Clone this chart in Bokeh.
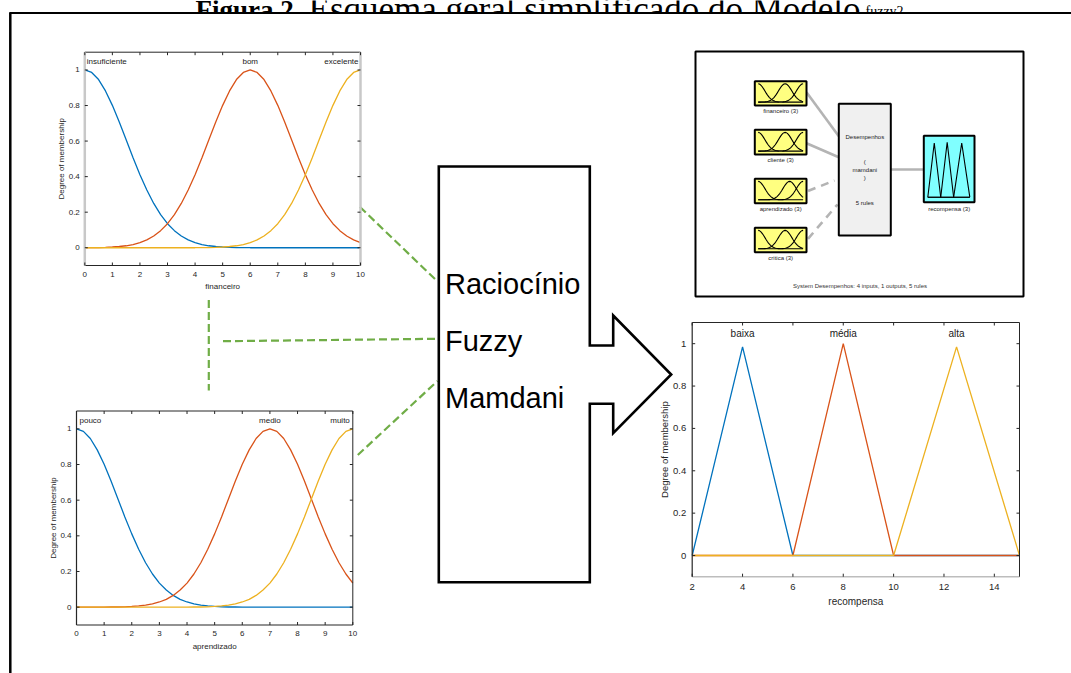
import math
from bokeh.plotting import figure
from bokeh.models import Range1d
from bokeh.core.properties import value
from bokeh.embed import file_html
from bokeh.resources import INLINE

# ---------------- data ----------------
mf_x = [0, 0.25, 0.5, 0.75, 1, 1.25, 1.5, 1.75, 2, 2.25, 2.5, 2.75, 3, 3.25, 3.5, 3.75,
        4, 4.25, 4.5, 4.75, 5, 5.25, 5.5, 5.75, 6, 6.25, 6.5, 6.75, 7, 7.25, 7.5, 7.75,
        8, 8.25, 8.5, 8.75, 9, 9.25, 9.5, 9.75, 10]

financeiro_names = ["insuficiente", "bom", "excelente"]
insuficiente = [1, .986, .946, .882, .801, .707, .607, .506, .411, .325, .249, .186, .135, .096,
                .066, .044, .029, .018, .011, .007, .004, .002, .001, .001,
                0, 0, 0, 0, 0, 0, 0, 0, 0, 0, 0, 0, 0, 0, 0, 0, 0]
bom = [0, .001, .001, .002, .004, .007, .011, .018, .029, .044, .066, .096, .135, .186, .249,
       .325, .411, .506, .607, .707, .801, .882, .946, .986, 1,
       .986, .946, .882, .801, .707, .607, .506, .411, .325, .249, .186, .135, .096, .066, .044, .029]
excelente = [0, 0, 0, 0, 0, 0, 0, 0, 0, 0, 0, 0, 0, 0, 0, 0,
             0, .001, .001, .002, .004, .007, .011, .018, .029, .044, .066, .096, .135, .186, .249,
             .325, .411, .506, .607, .707, .801, .882, .946, .986, 1]

aprendizado_names = ["pouco", "medio", "muito"]
pouco = [1, .986, .946, .882, .801, .707, .607, .506, .411, .325, .249, .186, .135, .096,
         .066, .044, .029, .018, .011, .007, .004, .002, .001, .001,
         0, 0, 0, 0, 0, 0, 0, 0, 0, 0, 0, 0, 0, 0, 0, 0, 0]
medio = [0, 0, 0, 0,
         0, .001, .001, .002, .004, .007, .011, .018, .029, .044, .066, .096, .135, .186, .249,
         .325, .411, .506, .607, .707, .801, .882, .946, .986, 1,
         .986, .946, .882, .801, .707, .607, .506, .411, .325, .249, .186, .135]
muito = [0, 0, 0, 0, 0, 0, 0, 0, 0, 0, 0, 0, 0, 0, 0, 0,
         0, .001, .001, .002, .004, .007, .011, .018, .029, .044, .066, .096, .135, .186, .249,
         .325, .411, .506, .607, .707, .801, .882, .946, .986, 1]

recompensa_names = ["baixa", "média", "alta"]
baixa_x = [2, 4, 6, 15]
baixa = [0, 0.985, 0, 0]
media_x = [2, 6, 8, 10, 15]
media = [0, 0, 1, 0, 0]
alta_x = [2, 10, 12.5, 15]
alta = [0, 0, 0.985, 0]

in_ticks = [0, 1, 2, 3, 4, 5, 6, 7, 8, 9, 10]
in_tick_labels = ["0", "1", "2", "3", "4", "5", "6", "7", "8", "9", "10"]
rec_ticks = [2, 4, 6, 8, 10, 12, 14]
rec_tick_labels = ["2", "4", "6", "8", "10", "12", "14"]
deg_ticks = [0, 0.2, 0.4, 0.6, 0.8, 1]
deg_tick_labels = ["0", "0.2", "0.4", "0.6", "0.8", "1"]

fis_inputs = ["financeiro (3)", "cliente (3)", "aprendizado (3)", "critica (3)"]
fis_output = "recompensa (3)"
fis_name = "Desempenhos"
fis_caption = "System Desempenhos: 4 inputs, 1 outputs, 5 rules"
center_words = ["Raciocínio", "Fuzzy", "Mamdani"]

# ---------------- styling ----------------
SANS = value("Liberation Sans")
SERIF = value("Liberation Serif")
AX = "#262626"
C_BLUE, C_ORANGE, C_YELLOW = "#0072BD", "#D95319", "#EDB120"
GREEN = "#70AD47"
GRAYLINK = "#b4b4b4"

W, H = 1071, 673
p = figure(width=W, height=H, x_range=Range1d(0, W), y_range=Range1d(H, 0),
           output_backend="svg", toolbar_location=None, x_axis_type=None, y_axis_type=None,
           min_border=0, min_border_left=0, min_border_right=0, min_border_top=0, min_border_bottom=0)
p.grid.visible = False
p.outline_line_color = None
p.background_fill_color = "white"
p.border_fill_color = "white"

# ---------------- title (cut off at the top, as in the source) ----------------
p.text(x=[300], y=[9.3], text=["Figura 2."], text_font=SERIF, text_font_style="bold",
       text_font_size="27px", text_baseline="alphabetic", text_align="right", text_color="black")
p.text(x=[308], y=[9.3], text=["Esquema geral simplificado do Modelo"], text_font=SERIF,
       text_font_size="35px", text_baseline="alphabetic", text_align="left", text_color="black")
p.text(x=[865], y=[10.5], text=["fuzzy2"], text_font=SERIF,
       text_font_size="14px", text_baseline="alphabetic", text_align="left", text_color="black")
p.quad(left=[0], right=[W], top=[13.2], bottom=[40], fill_color="white", line_color=None)

# outer frame
p.line([9.8, 9.8], [12, H], line_color="black", line_width=2.5)
p.line([9, W], [12.6, 12.6], line_color="black", line_width=2)

# ---------------- green dashed connectors ----------------
for (x0, y0, x1, y1) in [(359.5, 206.5, 437, 281), (222.5, 340.7, 437, 338.3),
                         (357.3, 454.5, 437, 380.5), (208.3, 299.5, 208.3, 390)]:
    p.line([x0, x1], [y0, y1], line_color=GREEN, line_width=2.2, line_dash="8 4")


# ---------------- membership-function panels ----------------
def panel(box, xr, xticks, xtlabels, xlabel, series, names, fs, lfs, offs, edges, label_align):
    l, r, t, b = box
    yr = (-0.1, 1.1)
    sub = p.subplot(x_source=Range1d(*xr), y_source=Range1d(*yr),
                    x_target=Range1d(l, r), y_target=Range1d(b, t))
    x0, x1 = xr
    y0, y1 = yr
    for (xs, ys, col) in series:
        sub.line(xs, ys, line_color=col, line_width=1.3)
    sub.line([x0, x1], [y1, y1], line_color=edges["top"][0], line_width=edges["top"][1])
    sub.line([x0, x1], [y0, y0], line_color=edges["bottom"][0], line_width=edges["bottom"][1])
    sub.line([x0, x0], [y0, y1], line_color=edges["left"][0], line_width=edges["left"][1])
    sub.line([x1, x1], [y0, y1], line_color=edges["right"][0], line_width=edges["right"][1])
    n = len(xticks)
    m = len(deg_ticks)
    sub.ray(x=xticks, y=[y0] * n, length=3, length_units="screen", angle=math.pi / 2, line_color=AX, line_width=1)
    sub.ray(x=xticks, y=[y1] * n, length=3, length_units="screen", angle=-math.pi / 2, line_color=AX, line_width=1)
    sub.ray(x=[x0] * m, y=deg_ticks, length=3, length_units="screen", angle=0, line_color=AX, line_width=1)
    sub.ray(x=[x1] * m, y=deg_ticks, length=3, length_units="screen", angle=math.pi, line_color=AX, line_width=1)
    sub.text(x=xticks, y=[y0] * n, text=xtlabels, y_offset=offs["xt"], text_align="center",
             text_baseline="middle", text_font=SANS, text_font_size=fs, text_color=AX)
    sub.text(x=[x0] * m, y=deg_ticks, text=deg_tick_labels, x_offset=offs["yt"], text_align="right",
             text_baseline="middle", text_font=SANS, text_font_size=fs, text_color=AX)
    sub.text(x=[(x0 + x1) / 2], y=[y0], text=[xlabel], y_offset=offs["xl"], text_align="center",
             text_baseline="middle", text_font=SANS, text_font_size=lfs, text_color=AX)
    sub.text(x=[x0], y=[(y0 + y1) / 2], text=["Degree of membership"], x_offset=offs["yl"],
             angle=math.pi / 2, text_align="center", text_baseline="middle",
             text_font=SANS, text_font_size=fs, text_color=AX)
    for (xs, ys, col), name, (al, dx) in zip(series, names, label_align):
        k = ys.index(max(ys))
        sub.text(x=[xs[k]], y=[1.047], text=[name], x_offset=dx, text_align=al,
                 text_baseline="middle", text_font=SANS, text_font_size=lfs, text_color="#1a1a1a")
    return sub


GRAYEDGE = "#c8c8c8"
panel((84.3, 360, 51.7, 265), (0, 10), in_ticks, in_tick_labels, "financeiro",
      [(mf_x, insuficiente, C_BLUE), (mf_x, bom, C_ORANGE), (mf_x, excelente, C_YELLOW)],
      financeiro_names, "8px", "8px", {"xt": 8.5, "yt": -5, "xl": 21, "yl": -23},
      {"top": (AX, 1), "bottom": (AX, 1.2), "left": (GRAYEDGE, 2.5), "right": (GRAYEDGE, 2.5)},
      [("left", 2), ("center", 0), ("right", -2)])

panel((76, 352.3, 410.5, 624.5), (0, 10), in_ticks, in_tick_labels, "aprendizado",
      [(mf_x, pouco, C_BLUE), (mf_x, medio, C_ORANGE), (mf_x, muito, C_YELLOW)],
      aprendizado_names, "8px", "8px", {"xt": 8, "yt": -5, "xl": 21, "yl": -23},
      {"top": (AX, 1), "bottom": (AX, 1.2), "left": (AX, 1.2), "right": (AX, 1)},
      [("left", 3), ("center", 0), ("right", -3)])

panel((691.7, 1019, 322, 576.2), (2, 15), rec_ticks, rec_tick_labels, "recompensa",
      [(baixa_x, baixa, C_BLUE), (media_x, media, C_ORANGE), (alta_x, alta, C_YELLOW)],
      recompensa_names, "9.5px", "10px", {"xt": 10.5, "yt": -6, "xl": 24.5, "yl": -28},
      {"top": (AX, 1), "bottom": ("#bdbdbd", 1.5), "left": (AX, 1.2), "right": (AX, 1)},
      [("center", 0), ("center", 0), ("center", 0)])

# ---------------- central box with arrow ----------------
bx = [438.3, 589.3, 589.3, 612.7, 612.7, 670.7, 612.7, 612.7, 589.3, 589.3, 438.3]
by = [166, 166, 345, 345, 315, 374, 432.7, 403.3, 403.3, 581.7, 581.7]
p.patch(bx, by, fill_color="white", line_color="black", line_width=2.6, line_join="miter")
p.text(x=[444.5] * 3, y=[283, 340.5, 397], text=center_words, text_font=SANS,
       text_font_size="29px", text_align="left", text_baseline="alphabetic", text_color="black")

# ---------------- FIS editor diagram ----------------
p.quad(left=[695], right=[1023], top=[51], bottom=[296], fill_color="white",
       line_color="black", line_width=2)

for (x0, y0, x1, y1) in [(806, 91.7, 838.3, 135.7), (806, 142.7, 838.3, 156.7)]:
    p.line([x0, x1], [y0, y1], line_color=GRAYLINK, line_width=2.6)
for (x0, y0, x1, y1) in [(807.5, 190.5, 834, 180), (807.5, 238.3, 837, 204)]:
    p.line([x0, x1], [y0, y1], line_color=GRAYLINK, line_width=2.6, line_dash="8 6")
p.line([890, 923.3], [169, 169], line_color=GRAYLINK, line_width=2.6)

in_boxes = [(80.7, 105), (129.3, 154), (178.3, 202.7), (227.3, 251.7)]
in_curves = [(insuficiente, bom, excelente), (insuficiente, bom, excelente),
             (pouco, medio, muito), (insuficiente, bom, excelente)]
bl, br = 754.3, 806
for (t, b), name, curves in zip(in_boxes, fis_inputs, in_curves):
    p.quad(left=[bl], right=[br], top=[t], bottom=[b], fill_color="#ffff80",
           line_color="black", line_width=2)
    mini = p.subplot(x_source=Range1d(0, 10), y_source=Range1d(0, 1),
                     x_target=Range1d(bl + 3.4, br - 3.4), y_target=Range1d(b - 3.4, t + 2.6))
    for ys in curves:
        mini.line(mf_x, ys, line_color="black", line_width=1.1)
    p.text(x=[(bl + br) / 2], y=[b + 5.8], text=[name], text_font=SANS, text_font_size="6px",
           text_align="center", text_baseline="middle", text_color="#222222")

p.quad(left=[838.3], right=[890.3], top=[103.3], bottom=[235], fill_color="#f0f0f0",
       line_color="black", line_width=2)
p.text(x=[864.3] * 5, y=[136.7, 161.5, 169.3, 177.3, 202.3],
       text=[fis_name, "(", "mamdani", ")", "5 rules"], text_font=SANS, text_font_size="6px",
       text_align="center", text_baseline="middle", text_color="#222222")

ol, orr, ot, ob = 923.3, 974, 135.3, 201.7
p.quad(left=[ol], right=[orr], top=[ot], bottom=[ob], fill_color="#80ffff",
       line_color="black", line_width=2)
mo = p.subplot(x_source=Range1d(2, 15), y_source=Range1d(0, 1),
               x_target=Range1d(ol + 4, orr - 4.7), y_target=Range1d(ob - 5, ot + 6.4))
for xs, ys in [(baixa_x, baixa), (media_x, media), (alta_x, alta)]:
    mo.line(xs, ys, line_color="black", line_width=1.1)
p.text(x=[(ol + orr) / 2], y=[ob + 6.6], text=[fis_output], text_font=SANS, text_font_size="6px",
       text_align="center", text_baseline="middle", text_color="#222222")

p.text(x=[859.5], y=[285], text=[fis_caption], text_font=SANS, text_font_size="6px",
       text_align="center", text_baseline="middle", text_color="#333333")

open("out.html", "w").write(file_html(p, INLINE))
